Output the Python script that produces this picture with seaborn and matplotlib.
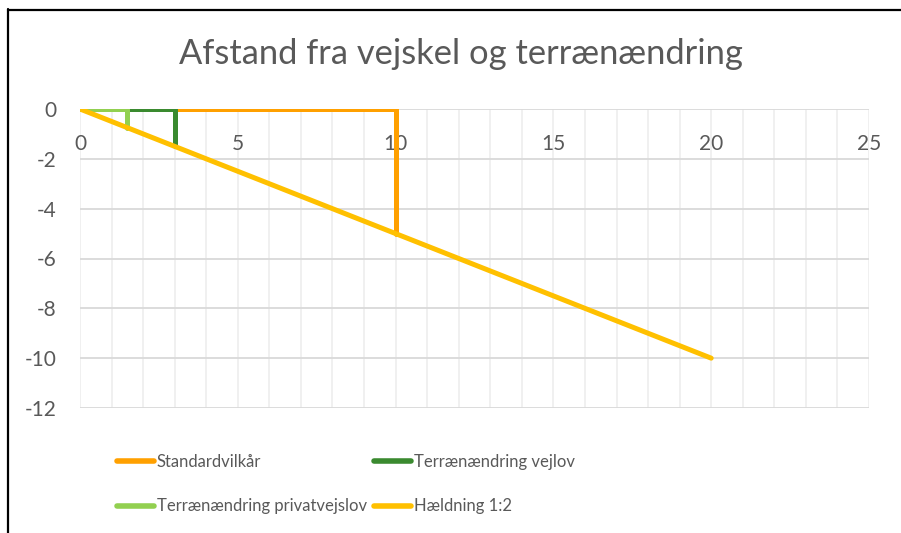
import matplotlib
matplotlib.use("Agg")
import matplotlib.pyplot as plt
from matplotlib.lines import Line2D
from matplotlib.ticker import MultipleLocator
import seaborn as sns
import pandas as pd

# ---- data ----
series_names = ["Standardvilkår", "Terrænændring vejlov",
                "Terrænændring privatvejslov", "Hældning 1:2"]
standard_x = [0, 10, 10]
standard_y = [0, 0, -5]
vejlov_x = [0, 3, 3]
vejlov_y = [0, 0, -1.5]
privat_x = [0, 1.5, 1.5]
privat_y = [0, 0, -0.75]
haeld_x = [0, 20]
haeld_y = [0, -10]
x_ticks = [0, 5, 10, 15, 20, 25]
y_ticks = [0, -2, -4, -6, -8, -10, -12]
title = "Afstand fra vejskel og terrænændring"
colors = ["#FFA000", "#3A8A2F", "#92D050", "#FFC000"]

rows = []
for name, xs, ys in zip(series_names,
                        [standard_x, vejlov_x, privat_x, haeld_x],
                        [standard_y, vejlov_y, privat_y, haeld_y]):
    for i, (xv, yv) in enumerate(zip(xs, ys)):
        rows.append({"series": name, "order": i, "x": xv, "y": yv})
df = pd.DataFrame(rows)

sns.set_theme(style="white")
plt.rcParams['font.family'] = ['Lato', 'DejaVu Sans']
text_color = "#595959"

fig = plt.figure(figsize=(9.01, 5.33), dpi=100)
ax = fig.add_axes([80/901, 1-408/533, (869-80)/901, (408-109)/533])

sns.lineplot(data=df, x="x", y="y", hue="series", hue_order=series_names,
             palette=colors, sort=False, estimator=None, units="series",
             lw=3.6, ax=ax, legend=True)

ax.set_xlim(0, 25)
ax.set_ylim(-12, 0)
ax.set_xticks(x_ticks)
ax.set_xticklabels([str(v) for v in x_ticks])
ax.xaxis.set_minor_locator(MultipleLocator(1))
ax.set_yticks(y_ticks)
ax.set_yticklabels([str(v) for v in y_ticks])
ax.grid(False)
ax.grid(True, axis="x", which="both", color="#EFEFEF", lw=1.3, zorder=0)
ax.grid(True, axis="y", which="major", color="#D9D9D9", lw=1.3, zorder=0)
ax.set_axisbelow(True)
for s in ["top", "right", "left"]:
    ax.spines[s].set_visible(False)
ax.spines["bottom"].set_position(("data", 0))
ax.spines["bottom"].set_visible(False)
ax.tick_params(axis="x", which="both", length=0, pad=18, labelsize=15, labelcolor=text_color)
ax.tick_params(axis="y", length=0, pad=17, labelsize=15, labelcolor=text_color)
ax.set_xlabel("")
ax.set_ylabel("")

fig.text(461/901, 1-54/533, title, ha="center", va="center",
         fontsize=24.8, color=text_color)

handles, labels = ax.get_legend_handles_labels()
ax.get_legend().remove()
hmap = dict(zip(labels, handles))
legend_kw = dict(loc="upper left", ncol=1, frameon=False, fontsize=12,
                 handlelength=2.2, handletextpad=0.18, labelspacing=1.7,
                 borderaxespad=0, borderpad=0)
col1 = [series_names[0], series_names[2]]
col2 = [series_names[1], series_names[3]]
leg1 = fig.legend([hmap[n] for n in col1], col1,
                  bbox_to_anchor=(117/901, 1-454/533), **legend_kw)
leg2 = fig.legend([hmap[n] for n in col2], col2,
                  bbox_to_anchor=(374/901, 1-454/533), **legend_kw)
for leg in (leg1, leg2):
    for t in leg.get_texts():
        t.set_color(text_color)
    for h in leg.get_lines():
        h.set_linewidth(4.0)
        h.set_solid_capstyle("round")

# chart border (top and left visible)
fig.add_artist(Line2D([8/901, 8/901], [0, 1-9/533], color="black", lw=1.6))
fig.add_artist(Line2D([8/901, 1], [1-9.5/533, 1-9.5/533], color="black", lw=1.6))

fig.savefig("out.png", dpi=100)
